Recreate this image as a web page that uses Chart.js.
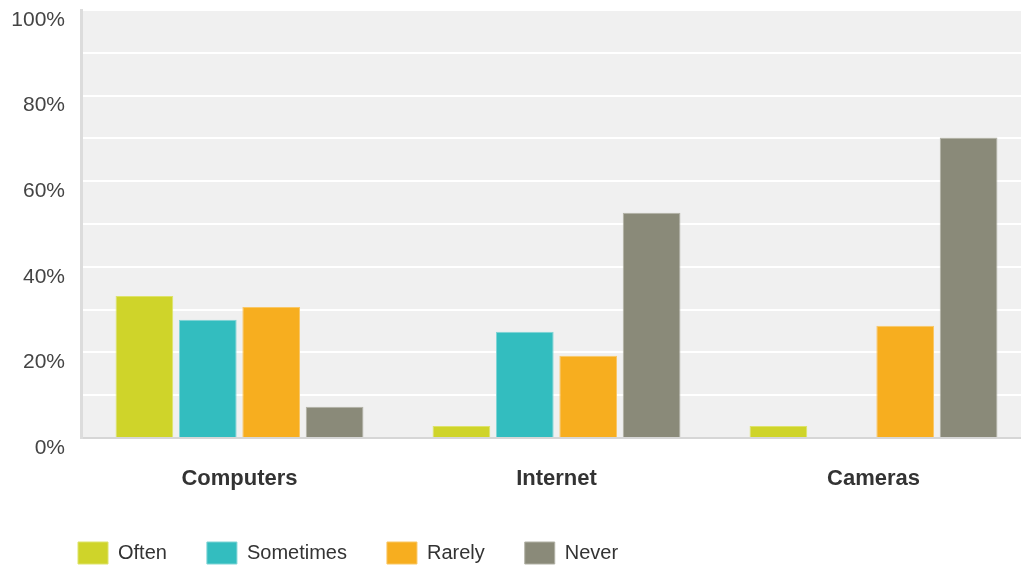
<!DOCTYPE html>
<html>
<head>
<meta charset="utf-8">
<style>
  body { margin: 0; background: #fff; overflow: hidden; }
  #wrap { width: 1021px; height: 565px; overflow: hidden; }
</style>
<script src="https://cdn.jsdelivr.net/npm/chart.js@4/dist/chart.umd.min.js"></script>
</head>
<body>
<!-- the plot runs slightly past the right edge in the original, so the canvas is a bit wider than the view -->
<div id="wrap"><canvas id="chart" width="1032" height="565"></canvas></div>
<script>
// Chart data (percent of respondents)
const categories = ['Computers', 'Internet', 'Cameras'];
const often = [33.2, 2.8, 2.8];
const sometimes = [27.6, 24.8, 0];
const rarely = [30.6, 19.2, 26.2];
const never = [7.3, 52.6, 70.2];
const yTicks = [0, 20, 40, 60, 80, 100];

// Grey plot background behind the grid
const plotBackground = {
    id: 'plotBackground',
    beforeDraw(chart) {
        const { ctx, chartArea } = chart;
        ctx.save();
        ctx.fillStyle = '#f0f0f0';
        ctx.fillRect(chartArea.left, chartArea.top, chartArea.right - chartArea.left, chartArea.bottom - chartArea.top);
        ctx.restore();
    }
};

// Nudge the legend so it lines up under the plot
const legendShift = {
    id: 'legendShift',
    afterLayout(chart) {
        chart.legend.left += 38;
        chart.legend.top += 9;
    }
};

function makeSet(label, data, color, border) {
    return {
        label: label,
        data: data,
        backgroundColor: color,
        borderColor: border,
        borderWidth: 1,
        categoryPercentage: 0.8,
        barPercentage: 0.91
    };
}

const ctx = document.getElementById('chart').getContext('2d');
new Chart(ctx, {
    type: 'bar',
    data: {
        labels: categories,
        datasets: [
            makeSet('Often', often, '#cfd42a', '#dde36a'),
            makeSet('Sometimes', sometimes, '#33bdbf', '#7fd4d5'),
            makeSet('Rarely', rarely, '#f7ae1f', '#f9c765'),
            makeSet('Never', never, '#8a8a79', '#b1b1a5')
        ]
    },
    options: {
        responsive: false,
        animation: false,
        layout: { padding: { top: 10, right: 0, bottom: 0, left: 0 } },
        plugins: {
            legend: {
                position: 'bottom',
                align: 'start',
                labels: {
                    boxWidth: 30,
                    boxHeight: 22,
                    padding: 40,
                    color: '#333',
                    font: { family: 'Liberation Sans', size: 20 }
                }
            },
            tooltip: { enabled: false }
        },
        scales: {
            x: {
                grid: { display: false },
                border: { color: '#d6d6d6', width: 2 },
                ticks: {
                    color: '#333',
                    padding: 20,
                    font: { family: 'Liberation Sans', size: 22, weight: 'bold' }
                },
                afterFit(scale) { scale.height = 55; }
            },
            y: {
                min: 0,
                max: 100,
                grid: { color: '#ffffff', lineWidth: 2, drawTicks: false },
                border: { color: '#dcdcdc', width: 3 },
                ticks: {
                    stepSize: 10,
                    padding: 16,
                    labelOffset: 10,
                    color: '#444',
                    font: { family: 'Liberation Sans', size: 21 },
                    callback: (v) => yTicks.includes(v) ? v + '%' : ''
                },
                afterFit(scale) {
                    scale.width = 81;
                    scale.paddingTop = 0;
                    scale.paddingBottom = 0;
                }
            }
        }
    },
    plugins: [plotBackground, legendShift]
});
</script>
</body>
</html>
